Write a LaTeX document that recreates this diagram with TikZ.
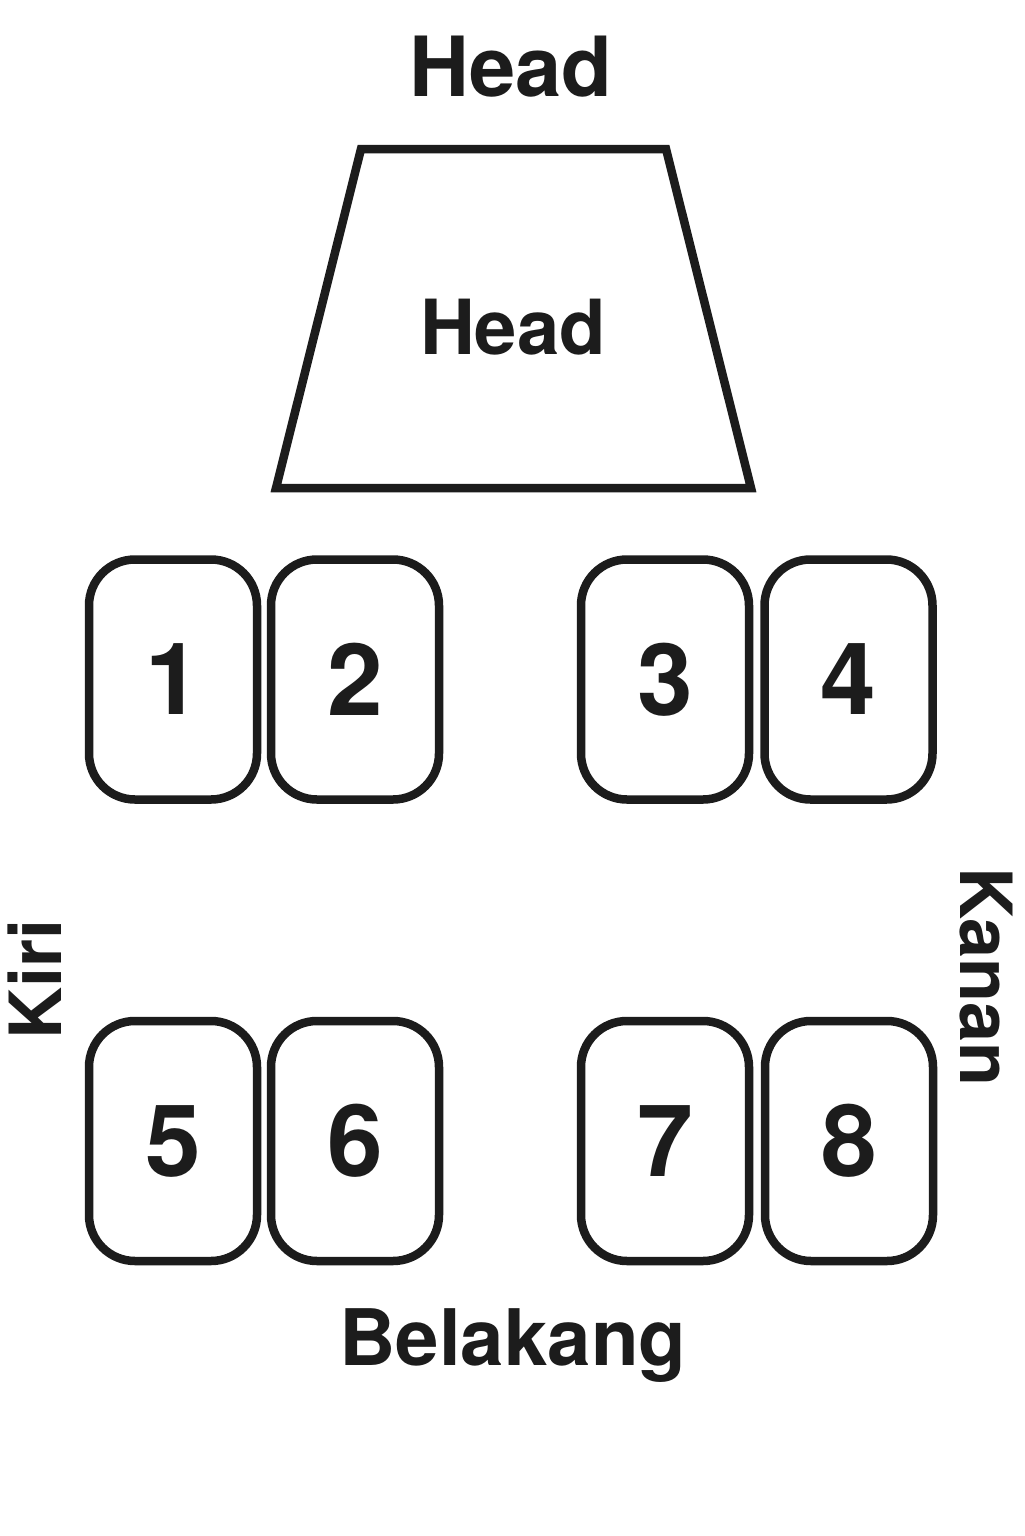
\documentclass[tikz,border=0pt]{standalone}
\usepackage{fontspec}
\setmainfont{TeX Gyre Heros}
\definecolor{ink}{HTML}{1C1C1C}
\begin{document}
\begin{tikzpicture}[x=0.5pt,y=-0.5pt,
  seat/.style={draw=ink, line width=4.25pt, rounded corners=23pt,
    minimum width=84pt, minimum height=120pt, inner sep=0pt,
    font=\bfseries\fontsize{50}{50}\selectfont, text=ink},
  lbl/.style={inner sep=0pt, text=ink},
  headline/.style={draw=ink, line width=4.25pt, line join=miter}]
\useasboundingbox (0,0) rectangle (1024,1536);
\fill[white] (0,0) rectangle (1024,1536);
% title
\node[lbl, anchor=base, font=\bfseries\fontsize{41.5}{41.5}\selectfont] (title) at (511,97) {Head};
% trapezoid
\coordinate (tl) at (361,149);
\coordinate (tr) at (666,149);
\coordinate (br) at (751,488);
\coordinate (bl) at (276,488);
\draw[headline] (tl) -- (tr) -- (br) -- (bl) -- cycle;
\node[lbl, anchor=base, font=\bfseries\fontsize{38}{38}\selectfont] (head) at (513,354) {Head};
% seats
\node[seat] (s1) at (173,679.5) {1};
\node[seat] (s2) at (355,679.5) {2};
\node[seat] (s3) at (665,679.5) {3};
\node[seat] (s4) at (848.5,679.5) {4};
\node[seat] (s5) at (173,1141) {5};
\node[seat] (s6) at (355,1141) {6};
\node[seat] (s7) at (665,1141) {7};
\node[seat] (s8) at (849,1141) {8};
% side labels
\node[lbl, rotate=90, font=\bfseries\fontsize{36}{36}\selectfont] (kiri) at (35,979) {Kiri};
\node[lbl, rotate=-90, font=\bfseries\fontsize{36}{36}\selectfont] (kanan) at (986,977) {Kanan};
\node[lbl, anchor=base, font=\bfseries\fontsize{39}{39}\selectfont] (back) at (513,1365) {Belakang};
\end{tikzpicture}
\end{document}
